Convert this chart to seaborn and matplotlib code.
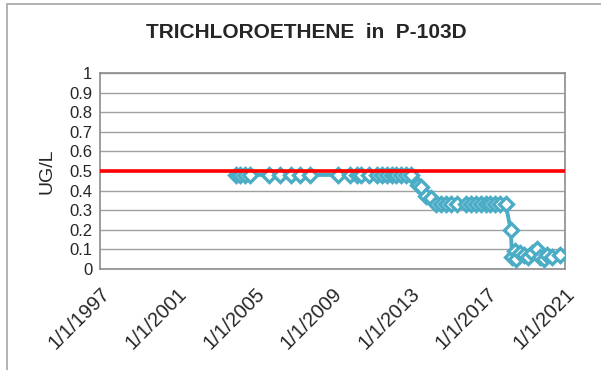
import matplotlib
matplotlib.use("Agg")
import matplotlib.pyplot as plt
from matplotlib.patches import Rectangle
from matplotlib.ticker import FuncFormatter, MultipleLocator
import pandas as pd
import seaborn as sns

# Sample dates and TCE concentrations (UG/L) for well P-103D
sample_dates = [
    "2004-01-05", "2004-04-01", "2004-07-01", "2004-10-01", "2005-10-01",
    "2006-04-20", "2006-11-05", "2007-05-08", "2007-11-06", "2009-04-20",
    "2009-11-25", "2010-04-01", "2010-06-15", "2010-11-25", "2011-04-20",
    "2011-07-20", "2011-10-20", "2012-01-20", "2012-04-20", "2012-07-20",
    "2012-10-20", "2013-01-20", "2013-05-25", "2013-07-20", "2013-11-05",
    "2014-02-05", "2014-05-08", "2014-08-08", "2014-11-08", "2015-02-08",
    "2015-06-12", "2015-11-25", "2016-02-25", "2016-05-25", "2016-08-25",
    "2016-11-25", "2017-02-25", "2017-05-25", "2017-08-25", "2017-12-10",
    "2018-03-15", "2018-04-10", "2018-05-25", "2018-07-01", "2018-09-10",
    "2018-11-25", "2019-02-05", "2019-04-20", "2019-07-20", "2019-09-10",
    "2019-11-25", "2020-02-05", "2020-05-10", "2020-09-20",
]
tce_ugl = [
    0.48, 0.48, 0.48, 0.48, 0.48,
    0.48, 0.48, 0.48, 0.48, 0.48,
    0.48, 0.48, 0.48, 0.48, 0.48,
    0.48, 0.48, 0.48, 0.48, 0.48,
    0.48, 0.48, 0.43, 0.42, 0.37,
    0.36, 0.33, 0.33, 0.33, 0.33,
    0.33, 0.33, 0.33, 0.33, 0.33,
    0.33, 0.33, 0.33, 0.33, 0.33,
    0.20, 0.06, 0.09, 0.05, 0.08,
    0.07, 0.06, 0.08, 0.10, 0.06,
    0.05, 0.07, 0.06, 0.07,
]
standard_ugl = 0.5
title_text = "TRICHLOROETHENE  in  P-103D"
y_label = "UG/L"
x_tick_years = [1997, 2001, 2005, 2009, 2013, 2017, 2021]

df = pd.DataFrame({"date": pd.to_datetime(sample_dates), "value": tce_ugl})

sns.set_style("white")
plt.rcParams["font.family"] = ["Liberation Sans", "DejaVu Sans"]

fig = plt.figure(figsize=(6.01, 3.70), dpi=100)
fig.patch.set_facecolor("white")
# chart-area border
fig.patches.append(Rectangle((7 / 601, -0.05), 1.2, 1 - 4 / 370 + 0.05,
                             transform=fig.transFigure, fill=False,
                             edgecolor="#A6A6A6", linewidth=1.2))

ax = fig.add_axes([100 / 601, 1 - 269 / 370, 465 / 601, 196 / 370])

blue = "#4BACC6"
sns.lineplot(data=df, x="date", y="value", ax=ax, color=blue, linewidth=2.8,
             marker="D", markersize=7.5, markerfacecolor="white",
             markeredgecolor=blue, markeredgewidth=2.4, zorder=4)
ax.axhline(standard_ugl, color="#FF0000", linewidth=2.6, zorder=5)

ax.set_ylim(0, 1)
ax.yaxis.set_major_locator(MultipleLocator(0.1))
ax.yaxis.set_major_formatter(
    FuncFormatter(lambda v, p: "0" if abs(v) < 1e-9 else f"{v:.1f}".rstrip("0").rstrip(".")))
ax.grid(axis="y", color="#A0A0A0", linewidth=1.0)
ax.set_axisbelow(True)

ticks = [pd.Timestamp(f"{y}-01-01") for y in x_tick_years]
ax.set_xlim(ticks[0], ticks[-1])
ax.set_xticks(ticks)
ax.set_xticklabels([f"{t.month}/{t.day}/{t.year}" for t in ticks],
                   rotation=45, ha="right", rotation_mode="anchor", fontsize=14.5)
ax.tick_params(axis="x", direction="out", length=5, width=1, color="#8C8C8C", pad=6)
ax.tick_params(axis="y", direction="inout", length=7, width=1, color="#8C8C8C",
               labelsize=12, pad=2)
for s in ax.spines.values():
    s.set_color("#8C8C8C")
    s.set_linewidth(1.2)

ax.set_xlabel("")
ax.set_ylabel(y_label, fontsize=14, labelpad=10)
fig.text(306 / 601, 1 - 33 / 370, title_text, ha="center", va="center",
         fontsize=15, fontweight="bold")

fig.savefig("out.png", dpi=100)
